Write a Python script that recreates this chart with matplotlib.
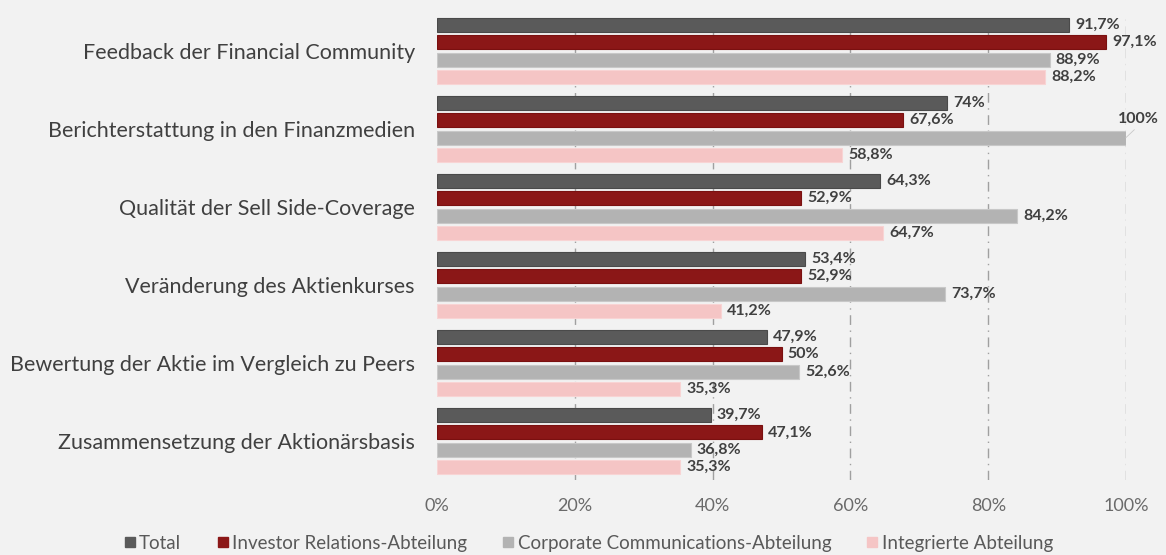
import matplotlib
matplotlib.use("Agg")
import matplotlib.pyplot as plt
import numpy as np
from matplotlib.lines import Line2D

plt.rcParams['font.family'] = ['Lato', 'DejaVu Sans']

categories = [
    "Feedback der Financial Community",
    "Berichterstattung in den Finanzmedien",
    "Qualität der Sell Side-Coverage",
    "Veränderung des Aktienkurses",
    "Bewertung der Aktie im Vergleich zu Peers",
    "Zusammensetzung der Aktionärsbasis",
]
series_names = [
    "Total",
    "Investor Relations-Abteilung",
    "Corporate Communications-Abteilung",
    "Integrierte Abteilung",
]
total = [91.7, 74, 64.3, 53.4, 47.9, 39.7]
investor_relations = [97.1, 67.6, 52.9, 52.9, 50, 47.1]
corporate_comm = [88.9, 100, 84.2, 73.7, 52.6, 36.8]
integrated = [88.2, 58.8, 64.7, 41.2, 35.3, 35.3]
x_ticks = [0, 20, 40, 60, 80, 100]

series = [total, investor_relations, corporate_comm, integrated]
colors = ["#5a5a5a", "#8b1717", "#b3b3b3", "#f5c5c5"]
edges = ["#4a4a4a", "#7a1010", "#c8c8c8", "#f8d4d4"]
bg = "#f2f2f2"
txt = "#404040"

fig = plt.figure(figsize=(11.66, 5.55), dpi=100, facecolor=bg)
ax = fig.add_axes([437 / 1166, 1 - 480 / 555, (1126 - 437) / 1166, (480 - 15) / 555])
ax.set_facecolor(bg)

step = 0.222
height = 0.18
y = np.arange(len(categories))
for i, (vals, c, ec) in enumerate(zip(series, colors, edges)):
    pos = y + (i - 1.5) * step
    ax.barh(pos, vals, height=height, color=c, edgecolor=ec, linewidth=0.8, zorder=3)
    for yy, v in zip(pos, vals):
        s = (f"{v:.1f}".replace(".", ",") if v != int(v) else f"{int(v)}") + "%"
        if v >= 100:
            ax.annotate(s, xy=(v, yy), xytext=(v - 1.2, yy - 0.24), fontsize=11.5,
                        fontweight="bold", color=txt, va="center", ha="left", zorder=4)
            ax.plot([v, v + 1.2], [yy, yy - 0.1], color="#c8c8c8", lw=0.6, zorder=4, clip_on=False)
        else:
            ax.text(v + 0.9, yy, s, fontsize=11.5, fontweight="bold", color=txt,
                    va="center", ha="left", zorder=4)

ax.set_xlim(0, 100)
ax.set_ylim(5.5, -0.46)
ax.set_yticks(y)
ax.set_yticklabels(categories, fontsize=15.5, color=txt)
ax.set_xticks(x_ticks)
ax.set_xticklabels([f"{t}%" for t in x_ticks], fontsize=13, color="#6a6a6a")
ax.tick_params(axis="both", length=0)
ax.tick_params(axis="y", pad=16)
ax.tick_params(axis="x", pad=13)
for t in x_ticks[1:]:
    ax.axvline(t, color="#a0a0a0", lw=1.0, linestyle=(0, (7, 4, 1, 4)), zorder=1)
for sp in ax.spines.values():
    sp.set_visible(False)

handles = [Line2D([], [], marker="s", linestyle="none", markersize=7,
                  markerfacecolor=c, markeredgecolor=c) for c in colors]
fig.legend(handles, series_names, loc="lower center", bbox_to_anchor=(0.504, -0.025),
           ncol=4, frameon=False, fontsize=13.5, labelcolor="#595959",
           handletextpad=0.1, columnspacing=1.8, handlelength=0.8)

fig.savefig("out.png", dpi=100, facecolor=bg)
